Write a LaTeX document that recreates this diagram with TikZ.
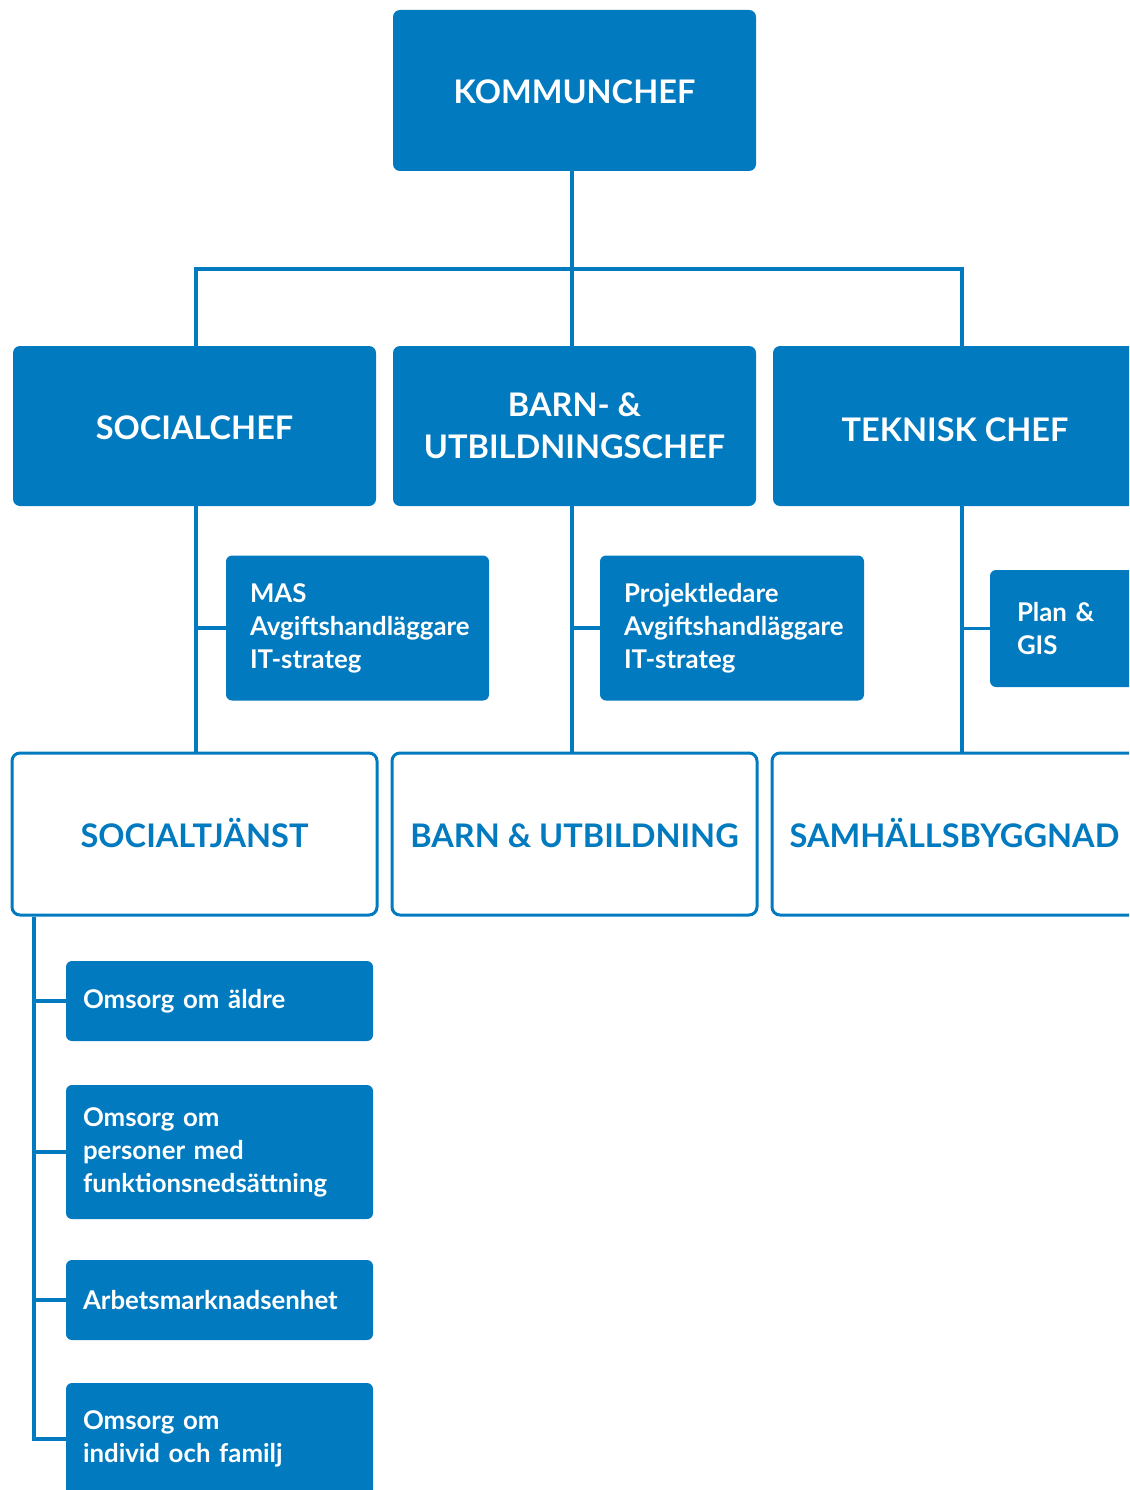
\documentclass[tikz,border=0pt]{standalone}
\usepackage{fontspec}
\setmainfont{Lato}[BoldFont={Lato Bold}]
\definecolor{kblue}{RGB}{2,122,191}
\hyphenpenalty=10000
\exhyphenpenalty=10000
\begin{document}
\hyphenpenalty=10000
\begin{tikzpicture}[x=1pt,y=-1pt,
  chief/.style={draw=none,fill=kblue,rounded corners=7pt,text=white,
    font=\fontsize{32.5}{42}\selectfont\bfseries,align=center,inner sep=0pt},
  unit/.style={draw=kblue,line width=3pt,fill=white,rounded corners=8pt,text=kblue,
    font=\fontsize{32.5}{42}\selectfont\bfseries,align=center,inner sep=0pt},
  capline/.style={text height=26pt,text depth=0pt},
  staff/.style={draw=none,fill=kblue,rounded corners=6pt,text=white,
    font=\fontsize{25.8}{33}\selectfont\bfseries,align=left,
    inner ysep=0pt},
  conn/.style={draw=kblue,line width=3.5pt,line cap=butt,line join=miter}]
\useasboundingbox (0,0) rectangle (1129,1490);
\clip (0,0) rectangle (1129,1490);

% top
\node[chief,capline,minimum width=363,minimum height=161] (k) at (574.5,90.5) {KOMMUNCHEF};
% chiefs
\node[chief,capline,minimum width=363,minimum height=160] (sc) at (194.5,426) {SOCIALCHEF};
\node[chief,minimum width=363,minimum height=160] (bc) at (574.5,426) {BARN- \&\\UTBILDNINGSCHEF};
\node[chief,capline,text height=30pt,minimum width=364,minimum height=160] (tc) at (955,426) {TEKNISK CHEF};

% staff boxes
\node[staff,minimum width=263,minimum height=145,text width=215pt,inner xsep=24pt] (mas) at (357.5,628)
  {MAS\\Avgiftshandläggare\\IT-strateg};
\node[staff,minimum width=264,minimum height=145,text width=216pt,inner xsep=24pt] (pl) at (732,628)
  {Projektledare\\Avgiftshandläggare\\IT-strateg};
\node[staff,minimum width=180,minimum height=117,text width=126pt,inner xsep=27pt] (pg) at (1080,628.5)
  {Plan \&\\GIS};

% units
\node[unit,capline,minimum width=365,minimum height=162] (st) at (194.5,834) {SOCIALTJÄNST};
\node[unit,capline,minimum width=365,minimum height=162] (bu) at (574.5,834) {BARN \& UTBILDNING};
\node[unit,capline,minimum width=365,minimum height=162] (sb) at (954.5,834) {SAMHÄLLSBYGGNAD};

% social sub-units
\node[staff,minimum width=307,minimum height=80,text width=273pt,inner xsep=17pt] (o1) at (219.5,1001)
  {Omsorg om äldre};
\node[staff,minimum width=307,minimum height=134,text width=273pt,inner xsep=17pt] (o2) at (219.5,1152)
  {Omsorg om\\personer med\\funktionsnedsättning};
\node[staff,minimum width=307,minimum height=80,text width=273pt,inner xsep=17pt] (o3) at (219.5,1300)
  {Arbetsmarknadsenhet};
\node[staff,minimum width=307,minimum height=112,text width=273pt,inner xsep=17pt] (o4) at (219.5,1439)
  {Omsorg om\\individ och familj};

% spine coordinates
\coordinate (j) at (572,269);
\coordinate (s1) at (196,0);
\coordinate (s2) at (572,0);
\coordinate (s3) at (962,0);
\coordinate (sp) at (34,0);

% connectors
\draw[conn] (k.south -| s2) -- (bc.north -| s2);
\draw[conn] (sc.north -| s1) |- (j) -| (tc.north -| s3);
\draw[conn] (sc.south -| s1) -- (st.north -| s1);
\draw[conn] (bc.south -| s2) -- (bu.north -| s2);
\draw[conn] (tc.south -| s3) -- (sb.north -| s3);
\draw[conn] (mas.west) -- (mas.west -| s1);
\draw[conn] (pl.west) -- (pl.west -| s2);
\draw[conn] (pg.west) -- (pg.west -| s3);
\draw[conn] (st.south -| sp) |- (o4.west);
\draw[conn] (o1.west) -- (o1.west -| sp);
\draw[conn] (o2.west) -- (o2.west -| sp);
\draw[conn] (o3.west) -- (o3.west -| sp);
\end{tikzpicture}
\end{document}
